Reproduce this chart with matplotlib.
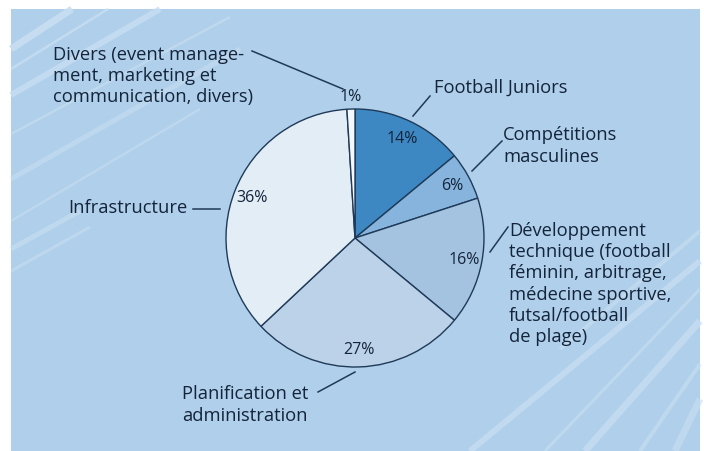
import matplotlib
matplotlib.use("Agg")
import matplotlib.pyplot as plt
from matplotlib.patches import Rectangle

# data
labels = [
    "Football Juniors",
    "Compétitions\nmasculines",
    "Développement\ntechnique (football\nféminin, arbitrage,\nmédecine sportive,\nfutsal/football\nde plage)",
    "Planification et\nadministration",
    "Infrastructure",
    "Divers (event manage-\nment, marketing et\ncommunication, divers)",
]
shares = [14, 6, 16, 27, 36, 1]
colors = ["#3d88c3", "#86b4dc", "#a4c3e0", "#bcd2e8", "#e3edf6", "#f5f8fb"]

# layout in image pixels (x from left, y from top)
W, H = 704, 452
CENTER = (355, 239)
RADIUS = 129
label_pos = [(434, 88), (503, 146), (509, 284), (182, 405), (68, 208), (53, 76)]
leaders = [
    ((430, 97), (413, 117)),
    ((502, 142), (472, 172)),
    ((508, 228), (490, 253)),
    ((318, 393), (355, 373)),
    ((193, 210), (220, 210)),
    ((252, 52), (343, 90)),
]

BG = "#afcfea"
STRIPE = "#c9dff2"
TXT = "#14243a"
EDGE = "#1f3a58"

plt.rcParams["font.family"] = ["Open Sans", "DejaVu Sans"]


def fy(y):
    return H - y


fig = plt.figure(figsize=(W / 100, H / 100), dpi=100, facecolor="white")
ax = fig.add_axes([0, 0, 1, 1])

ax.add_patch(Rectangle((11, 0), 689, H - 10, facecolor=BG, edgecolor="none", zorder=0))

# decorative stripes
stripes = [
    ((11, 50), (72, 10), 7, 0.9),
    ((11, 70), (108, 10), 2.5, 0.8),
    ((11, 96), (160, 10), 6, 0.8),
    ((11, 135), (230, 18), 2.5, 0.6),
    ((11, 180), (240, 50), 5, 0.55),
    ((11, 222), (200, 110), 2.5, 0.5),
    ((11, 250), (80, 212), 5, 0.6),
    ((11, 272), (90, 228), 3, 0.55),
    ((700, 232), (560, 350), 4, 0.6),
    ((700, 262), (470, 452), 6, 0.7),
    ((700, 290), (545, 452), 3, 0.6),
    ((700, 322), (585, 452), 7, 0.7),
    ((700, 365), (640, 452), 4, 0.6),
    ((700, 400), (675, 452), 7, 0.6),
]
for (x0, y0), (x1, y1), w, a in stripes:
    ax.plot([x0, x1], [fy(y0), fy(y1)], color=STRIPE, lw=w * 0.72, alpha=a,
            solid_capstyle="butt", zorder=1)

wedges, texts, pcts = ax.pie(
    shares, colors=colors, startangle=90, counterclock=False,
    center=(CENTER[0], fy(CENTER[1])), radius=RADIUS,
    autopct="%d%%", pctdistance=0.86,
    wedgeprops=dict(edgecolor=EDGE, linewidth=1.0),
    textprops=dict(color=TXT, fontsize=11.5), frame=True,
)
ax.set_xlim(0, W)
ax.set_ylim(0, H)
ax.set_aspect("equal")
ax.axis("off")
for w in wedges:
    w.set_zorder(2)
for t in pcts:
    t.set_zorder(3)
# small slice: label sits just outside the rim
pcts[-1].set_position((CENTER[0] - 4, fy(CENTER[1]) + RADIUS * 1.1))

for lab, (x, y) in zip(labels, label_pos):
    ax.text(x, fy(y), lab, ha="left", va="center", fontsize=13.2, color=TXT,
            linespacing=1.24, zorder=4)

for (p0, p1) in leaders:
    ax.plot([p0[0], p1[0]], [fy(p0[1]), fy(p1[1])], color=EDGE, lw=1.1, zorder=4)

fig.savefig("out.png", dpi=100, facecolor="white")
